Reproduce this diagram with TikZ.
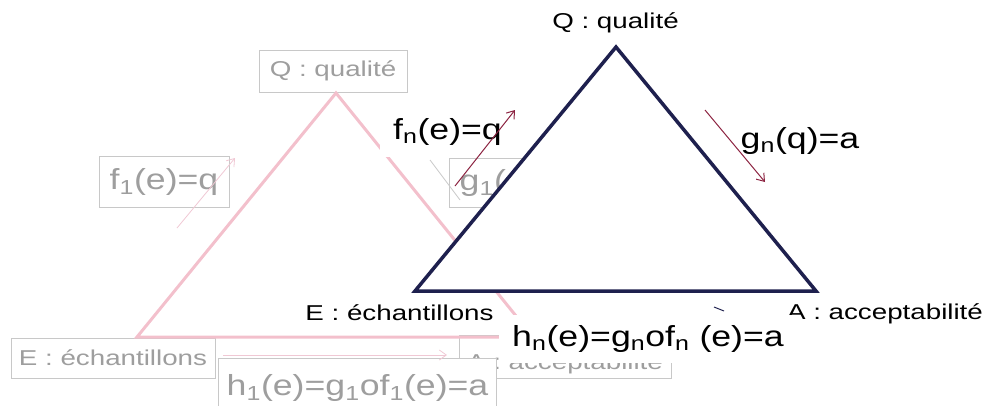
\documentclass[tikz,border=0pt]{standalone}
\usepackage{fontspec}
\setmainfont{Liberation Sans}
\usetikzlibrary{arrows.meta}
\definecolor{navy}{RGB}{30,32,78}
\definecolor{bordeaux}{RGB}{140,35,65}
\definecolor{rose}{RGB}{243,192,204}
\definecolor{rosepale}{RGB}{240,200,212}
\definecolor{grisT}{RGB}{158,158,158}
\definecolor{grisB}{RGB}{200,200,200}
\newcommand{\petit}[1]{\scalebox{1.29}[1]{\fontsize{21.5}{24}\selectfont #1}}
\newcommand{\grand}[1]{\scalebox{1.23}[1]{\fontsize{29}{33}\selectfont #1}}

\begin{document}
\begin{tikzpicture}[x=1pt,y=-1pt,>={Straight Barb[length=7pt,width=10pt]},
  boite/.style={draw=grisB,line width=0.8pt,fill=white,text=grisT,inner xsep=8pt,inner ysep=0pt,minimum height=42pt},
  etiq/.style={fill=white,text=black,inner sep=3pt},
  cote/.style={draw=navy,line width=3.5pt,line join=miter},
  fleche/.style={->,bordeaux,line width=1pt}]
  \useasboundingbox (0,0) rectangle (986,405);
  % premier triangle, en fond
  \node[boite,minimum width=148pt] (gQ) at (333,71) {\petit{Q : qualité}};
  \node[boite,minimum width=203pt,minimum height=40pt] (gE) at (113,358) {\petit{E : échantillons}};
  \node[boite,minimum width=211pt,minimum height=43pt,text height=30pt,text depth=5pt] (gA) at (565,356.5) {\petit{A : acceptabilité}};
  \node[boite,minimum width=130pt,minimum height=51pt] (gf) at (164,181.5) {\grand{f\textsubscript{1}(e)=q}};
  \node[boite,minimum width=139pt,minimum height=49pt] (gg) at (519,182.5) {\grand{g\textsubscript{1}(q)=a}};
  \node[boite,minimum width=269pt,minimum height=58pt] (gh) at (357.5,387.5) {\grand{h\textsubscript{1}(e)=g\textsubscript{1}of\textsubscript{1}(e)=a}};
  \coordinate (pQ) at (336,93);
  \coordinate (pE) at (137,337);
  \coordinate (pA) at (533,337);
  \draw[rose,line width=3pt,line join=miter] (pE) -- (pQ) -- (pA) -- cycle;
  \coordinate (f1a) at (177,228); \coordinate (f1b) at (235,158);
  \draw[->,rosepale,line width=0.8pt] (f1a) -- (f1b);
  \coordinate (g1a) at (430,160); \coordinate (g1b) at (460,200);
  \draw[grisB,line width=0.8pt] (g1a) -- (g1b);
  \coordinate (h1a) at (223,355); \coordinate (h1b) at (447,355);
  \draw[->,rosepale,line width=0.8pt] (h1a) -- (h1b);
  % second triangle
  \coordinate (Q) at (616,47);
  \coordinate (E) at (415,291);
  \coordinate (A) at (816,291);
  \draw[cote,fill=white] (E) -- (Q) -- (A) -- cycle;
  \node[etiq] (nQ) at (615.5,23) {\petit{Q : qualité}};
  \node[etiq] (nE) at (399.5,312.5) {\petit{E : échantillons}};
  \node[etiq] (nA) at (885,314) {\petit{A : acceptabilité}};
  \node[etiq,inner xsep=13pt,inner ysep=11pt] (nf) at (447.5,132) {\grand{f\textsubscript{n}(e)=q}};
  \node[etiq] (ng) at (800,141) {\grand{g\textsubscript{n}(q)=a}};
  \node[etiq,inner xsep=13pt,inner ysep=10pt] (nh) at (648,339) {\grand{h\textsubscript{n}(e)=g\textsubscript{n}of\textsubscript{n} (e)=a}};
  \coordinate (fa) at (455,186); \coordinate (fb) at (515,110);
  \draw[fleche] (fa) -- (fb);
  \coordinate (ga) at (705,110); \coordinate (gb) at (765,182);
  \draw[fleche] (ga) -- (gb);
  \draw[navy,line width=1pt] (714,307) -- (724,311);
\end{tikzpicture}
\end{document}
